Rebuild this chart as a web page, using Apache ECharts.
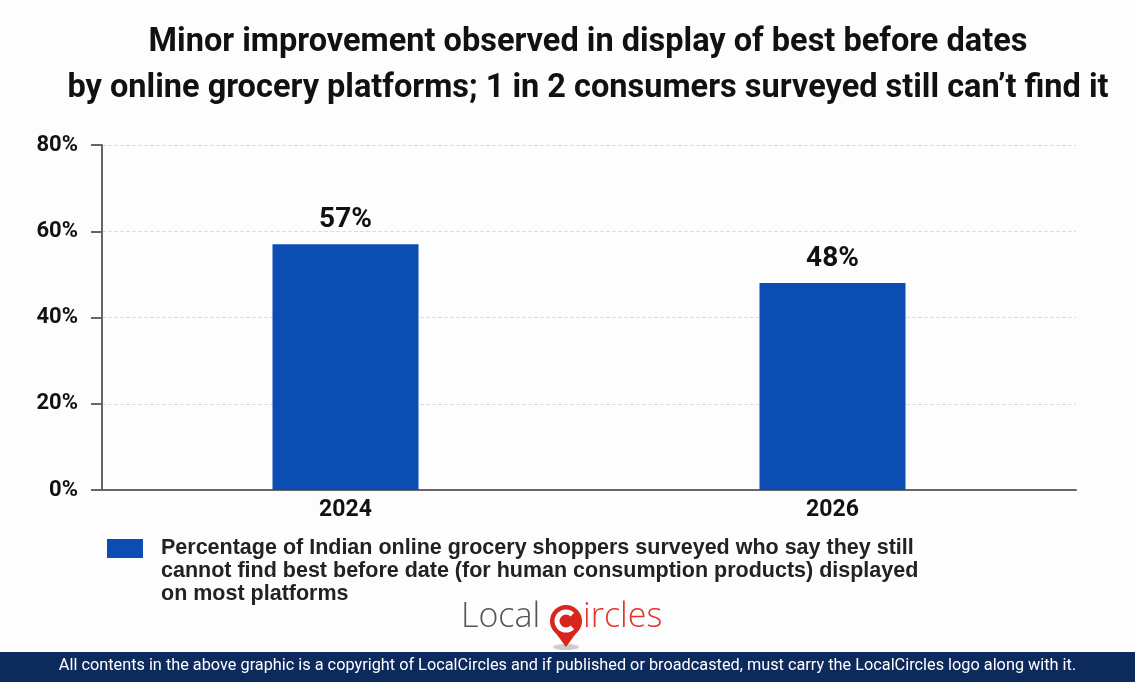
<!DOCTYPE html>
<html>
<head>
<meta charset="utf-8">
<script src="https://cdn.jsdelivr.net/npm/echarts@6/dist/echarts.min.js"></script>
<style>
  html, body { margin: 0; padding: 0; background: #fdfdfd; }
  #main { width: 1135px; height: 682px; }
</style>
</head>
<body>
<div id="main"></div>
<script>
// data
var years = ['2024', '2026'];
var shares = [57, 48];
var seriesName = 'Percentage of Indian online grocery shoppers surveyed who say they still\ncannot find best before date (for human consumption products) displayed\non most platforms';

var myChart = echarts.init(document.getElementById('main'));

var option = {
    backgroundColor: '#fdfdfd',
    title: {
        text: 'Minor improvement observed in display of best before dates\nby online grocery platforms; 1 in 2 consumers surveyed still can\u2019t find it',
        left: 583,
        textAlign: 'center',
        top: 15,
        textStyle: {
            fontFamily: 'Roboto',
            fontWeight: 'bold',
            fontSize: 32.5,
            lineHeight: 46,
            color: '#111'
        }
    },
    legend: {
        data: [seriesName],
        left: 107,
        top: 491,
        padding: 0,
        icon: 'rect',
        itemWidth: 36,
        itemHeight: 19,
        // two empty lines on top so the first text line sits next to the square
        formatter: function (name) {
            return '\n\n' + name;
        },
        textStyle: {
            fontFamily: '"Liberation Sans"',
            fontWeight: 'bold',
            fontSize: 21.5,
            lineHeight: 23,
            padding: [0, 0, 0, 13],
            color: '#222'
        }
    },
    grid: {
        left: 102,
        right: 59,
        top: 145,
        bottom: 192
    },
    xAxis: {
        type: 'category',
        data: years,
        axisTick: { show: false },
        axisLine: { lineStyle: { color: '#666', width: 2 } },
        axisLabel: {
            margin: 9,
            fontFamily: 'Roboto',
            fontWeight: 'bold',
            fontSize: 23,
            color: '#111'
        }
    },
    yAxis: {
        type: 'value',
        min: 0,
        max: 80,
        interval: 20,
        axisLine: { show: true, lineStyle: { color: '#666', width: 2 } },
        axisTick: { show: true, length: 11, lineStyle: { color: '#666', width: 2 } },
        axisLabel: {
            margin: 24,
            formatter: '{value}%',
            fontFamily: 'Roboto',
            fontWeight: 'bold',
            fontSize: 22,
            color: '#111'
        },
        splitLine: { lineStyle: { color: '#ddd', type: 'dashed' } }
    },
    series: [
        {
            name: seriesName,
            type: 'bar',
            data: shares,
            barWidth: 146,
            itemStyle: { color: '#0b4db3' },
            label: {
                show: true,
                position: 'top',
                distance: 10,
                formatter: '{c}%',
                fontFamily: 'Roboto',
                fontWeight: 'bold',
                fontSize: 28,
                color: '#111'
            }
        }
    ],
    graphic: [
        // footer band
        {
            type: 'rect',
            left: 0,
            top: 652,
            shape: { width: 1135, height: 30 },
            style: { fill: '#0c2a5c' }
        },
        {
            type: 'text',
            left: 'center',
            top: 658,
            style: {
                text: 'All contents in the above graphic is a copyright of LocalCircles and if published or broadcasted, must carry the LocalCircles logo along with it.',
                fill: '#fff',
                font: '16.3px Roboto'
            }
        },
        // logo
        {
            type: 'text',
            left: 461,
            top: 600,
            style: { text: 'Local', fill: '#555', font: '300 34px "Open Sans"' }
        },
        {
            type: 'ellipse',
            shape: { cx: 566, cy: 647, rx: 13, ry: 3 },
            style: { fill: '#ccc' }
        },
        {
            type: 'circle',
            shape: { cx: 566, cy: 621, r: 16 },
            style: { fill: '#d7261e' }
        },
        {
            type: 'polygon',
            shape: { points: [[555, 632], [577, 632], [566, 647]] },
            style: { fill: '#d7261e' }
        },
        {
            type: 'arc',
            shape: { cx: 566, cy: 621, r: 9, startAngle: Math.PI * 0.25, endAngle: Math.PI * 1.75 },
            style: { stroke: '#fff', lineWidth: 5, fill: 'none' }
        },
        {
            type: 'text',
            left: 583,
            top: 600,
            style: { text: 'ircles', fill: '#e0352b', font: '300 34px "Open Sans"' }
        }
    ]
};

myChart.setOption(option);
</script>
</body>
</html>
